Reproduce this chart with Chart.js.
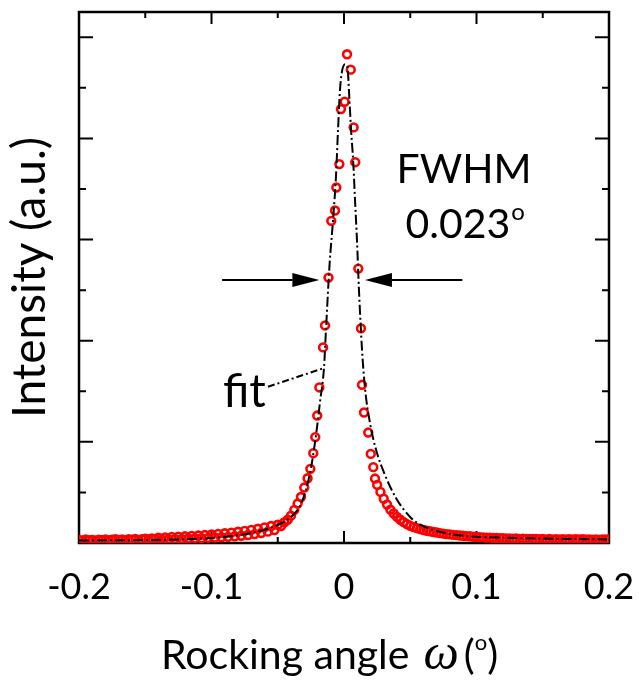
<!DOCTYPE html>
<html>
<head>
<meta charset="utf-8">
<script src="https://cdn.jsdelivr.net/npm/chart.js@4.4.1/dist/chart.umd.min.js"></script>
<style>
  html, body { margin: 0; padding: 0; background: #fff; }
</style>
</head>
<body>
<canvas id="c" width="639" height="690"></canvas>
<script>
// measured rocking curve (omega in degrees, intensity in a.u.)
const omega = [
  -0.2, -0.1975, -0.195, -0.1925, -0.19, -0.1875, -0.185, -0.1825, -0.18, -0.1775,
  -0.175, -0.1725, -0.17, -0.1675, -0.165, -0.1625, -0.16, -0.1575, -0.155, -0.1525,
  -0.15, -0.1475, -0.145, -0.1425, -0.14, -0.1375, -0.135, -0.1325, -0.13, -0.1275,
  -0.125, -0.1225, -0.12, -0.1175, -0.115, -0.1125, -0.11, -0.1075, -0.105, -0.1025,
  -0.1, -0.0975, -0.095, -0.0925, -0.09, -0.0875, -0.085, -0.0825, -0.08, -0.0775,
  -0.075, -0.0725, -0.07, -0.0675, -0.065, -0.0625, -0.06, -0.0575, -0.055, -0.0525,
  -0.05, -0.0475, -0.045, -0.0425, -0.04, -0.0375, -0.035, -0.0325, -0.03, -0.0275,
  -0.0254, -0.0232, -0.0217, -0.0202, -0.0186, -0.0158, -0.0143, -0.0117, -0.0096, -0.0068,
  -0.0058, -0.0035, -0.0023, 0.0005, 0.0023, 0.0051, 0.0073, 0.0085, 0.0108, 0.0128,
  0.0136, 0.0151, 0.0183, 0.0202, 0.0221, 0.0234,
  0.025, 0.0275, 0.03, 0.0325, 0.035, 0.0375, 0.04, 0.0425, 0.045, 0.0475,
  0.05, 0.0525, 0.055, 0.0575, 0.06, 0.0625, 0.065, 0.0675, 0.07, 0.0725,
  0.075, 0.0775, 0.08, 0.0825, 0.085, 0.0875, 0.09, 0.0925, 0.095, 0.0975,
  0.1, 0.1025, 0.105, 0.1075, 0.11, 0.1125, 0.115, 0.1175, 0.12, 0.1225,
  0.125, 0.1275, 0.13, 0.1325, 0.135, 0.1375, 0.14, 0.1425, 0.145, 0.1475,
  0.15, 0.1525, 0.155, 0.1575, 0.16, 0.1625, 0.165, 0.1675, 0.17, 0.1725,
  0.175, 0.1775, 0.18, 0.1825, 0.185, 0.1875, 0.19, 0.1925, 0.195, 0.1975, 0.2
];
const intensity = [
  0.030, 0.025, 0.034, 0.028, 0.031, 0.024, 0.033, 0.029, 0.036, 0.027,
  0.032, 0.038, 0.030, 0.035, 0.028, 0.037, 0.033, 0.040, 0.031, 0.038,
  0.042, 0.035, 0.044, 0.039, 0.052, 0.034, 0.056, 0.037, 0.060, 0.040,
  0.063, 0.041, 0.066, 0.044, 0.070, 0.046, 0.074, 0.048, 0.079, 0.051,
  0.084, 0.054, 0.090, 0.057, 0.096, 0.061, 0.103, 0.066, 0.111, 0.072,
  0.120, 0.079, 0.130, 0.088, 0.141, 0.099, 0.154, 0.112, 0.168, 0.128,
  0.180, 0.168, 0.205, 0.230, 0.270, 0.327, 0.390, 0.455, 0.548, 0.640,
  0.733, 0.888, 1.047, 1.260, 1.538, 1.934, 2.151, 2.624, 3.185, 3.287,
  3.515, 3.746, 4.290, 4.363, 4.832, 4.680, 4.109, 3.765, 2.713, 2.122,
  1.564, 1.290, 1.092, 0.881, 0.750, 0.637,
  0.575, 0.505, 0.438, 0.380, 0.330, 0.292, 0.258, 0.230, 0.206, 0.186,
  0.170, 0.157, 0.147, 0.137, 0.129, 0.121, 0.116, 0.109, 0.104, 0.098,
  0.093, 0.088, 0.085, 0.080, 0.078, 0.074, 0.072, 0.068, 0.066, 0.062,
  0.061, 0.058, 0.056, 0.053, 0.053, 0.050, 0.050, 0.047, 0.048, 0.045,
  0.046, 0.043, 0.044, 0.041, 0.043, 0.040, 0.041, 0.039, 0.040, 0.037,
  0.039, 0.036, 0.039, 0.036, 0.038, 0.035, 0.038, 0.035, 0.037, 0.034,
  0.037, 0.034, 0.037, 0.034, 0.036, 0.033, 0.036, 0.033, 0.036, 0.034, 0.035
];

// fitted profile (dash-dot line)
const fitOmega = [
  -0.2, -0.1494, -0.1245, -0.0996, -0.074, -0.0589, -0.0491, -0.0392, -0.0332, -0.0287,
  -0.0249, -0.0211, -0.0181, -0.0151, -0.0136, -0.0109, -0.0083, -0.006, -0.0045, -0.003,
  -0.0015, 0.0008, 0.0025, 0.004, 0.0053, 0.007, 0.0083, 0.0098, 0.0113, 0.0136,
  0.0158, 0.0196, 0.0242, 0.0309, 0.0392, 0.0506, 0.0611, 0.0762, 0.0913, 0.1162,
  0.1419, 0.1706, 0.2
];
const fitIntensity = [
  0.025, 0.030, 0.035, 0.050, 0.089, 0.134, 0.183, 0.267, 0.366, 0.525,
  0.743, 1.069, 1.396, 1.733, 2.109, 2.752, 3.188, 3.639, 4.089, 4.485,
  4.663, 4.733, 4.716, 4.406, 4.089, 3.762, 3.396, 2.990, 2.500, 1.910,
  1.535, 1.188, 0.921, 0.673, 0.446, 0.248, 0.158, 0.099, 0.069, 0.054,
  0.046, 0.040, 0.035
];

const xLabels = ['-0.2', '-0.1', '0', '0.1', '0.2'];

// annotation anchors, in data units
const halfLevel = 2.6;
const arrowLeft = [-0.092, -0.0186];   // tail, tip
const arrowRight = [0.0893, 0.0158];
const leaderFrom = [-0.0574, 1.545];
const leaderTo = [-0.0166, 1.723];
const fitText = [-0.0913, 1.347];
const fwhmText = [0.0906, 3.564];
const fwhmValue = [0.0915, 3.02];

const FONT = 'Lato';

function onStep(v, step) {
  return Math.abs(v / step - Math.round(v / step)) < 1e-6;
}

const frameTicks = {
  id: 'frameTicks',
  beforeDatasetsDraw(chart) {
    const { ctx, chartArea: a, scales: { x, y } } = chart;
    ctx.save();
    ctx.strokeStyle = '#000';
    ctx.lineWidth = 2;
    ctx.beginPath();
    x.ticks.forEach(t => {
      if (!onStep(t.value, 0.05)) return;
      const px = x.getPixelForValue(t.value);
      const len = onStep(t.value, 0.1) ? 12 : 6;
      ctx.moveTo(px, a.bottom); ctx.lineTo(px, a.bottom - len);
      ctx.moveTo(px, a.top); ctx.lineTo(px, a.top + len);
    });
    y.ticks.forEach(t => {
      if (!onStep(t.value, 0.5)) return;
      const py = y.getPixelForValue(t.value);
      const len = onStep(t.value, 1) ? 14 : 7;
      ctx.moveTo(a.left, py); ctx.lineTo(a.left + len, py);
      ctx.moveTo(a.right, py); ctx.lineTo(a.right - len, py);
    });
    ctx.stroke();
    ctx.lineWidth = 2.5;
    ctx.strokeRect(a.left, a.top, a.right - a.left, a.bottom - a.top);
    ctx.restore();
  }
};

function arrow(ctx, x0, y0, x1, y1) {
  const dir = Math.sign(x1 - x0);
  const head = 27;
  ctx.beginPath();
  ctx.moveTo(x0, y0);
  ctx.lineTo(x1 - dir * head, y1);
  ctx.stroke();
  ctx.beginPath();
  ctx.moveTo(x1, y1);
  ctx.lineTo(x1 - dir * head, y1 - 7);
  ctx.lineTo(x1 - dir * head, y1 + 7);
  ctx.closePath();
  ctx.fill();
}

function supText(ctx, parts, startX, baseY) {
  let cx = startX;
  parts.forEach(p => {
    ctx.font = p.font;
    ctx.fillText(p.text, cx, baseY - (p.rise || 0));
    cx += ctx.measureText(p.text).width + (p.gap || 0);
  });
}

function partsWidth(ctx, parts) {
  return parts.reduce((w, p) => {
    ctx.font = p.font;
    return w + ctx.measureText(p.text).width + (p.gap || 0);
  }, 0);
}

const notes = {
  id: 'notes',
  afterDraw(chart) {
    const { ctx, chartArea: a, scales: { x, y } } = chart;
    const X = v => x.getPixelForValue(v);
    const Y = v => y.getPixelForValue(v);
    ctx.save();
    ctx.fillStyle = '#000';
    ctx.strokeStyle = '#000';
    ctx.lineWidth = 2;
    arrow(ctx, X(arrowLeft[0]), Y(halfLevel), X(arrowLeft[1]), Y(halfLevel));
    arrow(ctx, X(arrowRight[0]), Y(halfLevel), X(arrowRight[1]), Y(halfLevel));

    ctx.setLineDash([7, 3, 2, 3]);
    ctx.beginPath();
    ctx.moveTo(X(leaderFrom[0]), Y(leaderFrom[1]));
    ctx.lineTo(X(leaderTo[0]), Y(leaderTo[1]));
    ctx.stroke();
    ctx.setLineDash([]);

    ctx.textBaseline = 'alphabetic';
    ctx.textAlign = 'left';
    ctx.font = `46px ${FONT}`;
    ctx.fillText('fit', X(fitText[0]), Y(fitText[1]));

    ctx.font = `41px ${FONT}`;
    ctx.textAlign = 'center';
    ctx.fillText('FWHM', X(fwhmText[0]), Y(fwhmText[1]));
    ctx.textAlign = 'left';
    const val = [
      { text: '0.023', font: `41px ${FONT}`, gap: 1 },
      { text: 'o', font: `24px ${FONT}`, rise: 18 }
    ];
    supText(ctx, val, X(fwhmValue[0]) - partsWidth(ctx, val) / 2, Y(fwhmValue[1]));

    // x-axis title with italic omega and superscript degree
    const title = [
      { text: 'Rocking angle', font: `41px ${FONT}`, gap: 14 },
      { text: '\u03c9', font: `italic 50px "Liberation Serif"`, gap: 5 },
      { text: '(', font: `41px ${FONT}` },
      { text: 'o', font: `22px ${FONT}`, rise: 19 },
      { text: ')', font: `41px ${FONT}` }
    ];
    supText(ctx, title, 161, a.bottom + 126);
    ctx.restore();
  }
};

new Chart(document.getElementById('c'), {
  type: 'scatter',
  data: {
    datasets: [
      {
        label: 'fit',
        type: 'line',
        data: fitOmega.map((v, i) => ({ x: v, y: fitIntensity[i] })),
        borderColor: '#000',
        borderWidth: 2,
        borderDash: [10, 3, 2, 3],
        pointRadius: 0,
        cubicInterpolationMode: 'monotone',
        fill: false,
        order: 0
      },
      {
        label: 'data',
        data: omega.map((v, i) => ({ x: v, y: intensity[i] })),
        showLine: false,
        pointStyle: 'circle',
        pointRadius: 3.9,
        pointBorderWidth: 2.6,
        borderColor: '#ff0000',
        backgroundColor: 'rgba(0,0,0,0)',
        order: 1
      }
    ]
  },
  options: {
    responsive: false,
    animation: false,
    events: [],
    layout: { padding: { top: 12, right: 30, left: 0, bottom: 0 } },
    plugins: { legend: { display: false }, tooltip: { enabled: false } },
    scales: {
      x: {
        type: 'linear',
        min: -0.2,
        max: 0.2,
        grid: { display: false },
        border: { display: false },
        ticks: {
          stepSize: 0.05,
          padding: 15,
          color: '#000',
          font: { family: FONT, size: 36 },
          maxRotation: 0,
          autoSkip: false,
          callback: v => onStep(v, 0.1) ? xLabels[Math.round(v / 0.1) + 2] : ''
        },
        afterFit: s => {
          s.height = 147;
          s.paddingLeft = 0;
          s.paddingRight = 0;
        }
      },
      y: {
        min: 0,
        max: 5.25,
        grid: { display: false },
        border: { display: false },
        ticks: { stepSize: 0.5, display: false },
        title: {
          display: true,
          text: 'Intensity (a.u.)',
          color: '#000',
          font: { family: FONT, size: 46 },
          padding: { top: 3, bottom: 0 }
        },
        afterFit: s => { s.width = 79; }
      }
    }
  },
  plugins: [frameTicks, notes]
});
</script>
</body>
</html>
